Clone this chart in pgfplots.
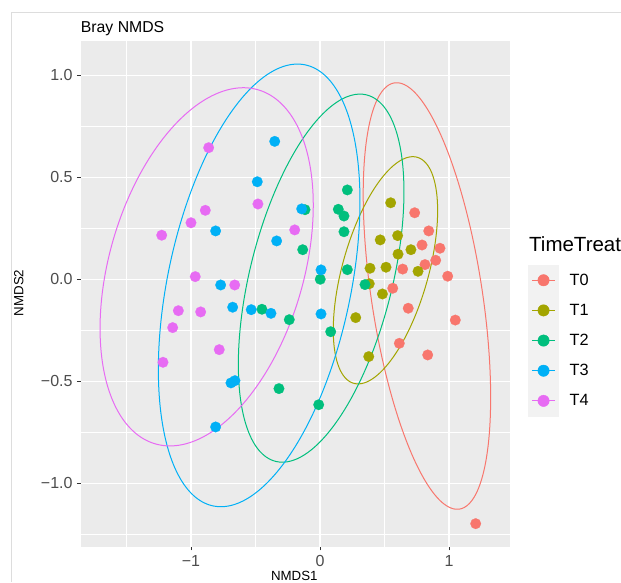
\documentclass[border=0pt]{standalone}
\usepackage{fontspec}
\setmainfont{Liberation Sans}
\usepackage{pgfplots}
\pgfplotsset{compat=1.18}
\definecolor{c0}{HTML}{F8766D}
\definecolor{c1}{HTML}{A3A500}
\definecolor{c2}{HTML}{00BF7D}
\definecolor{c3}{HTML}{00B0F6}
\definecolor{c4}{HTML}{E76BF3}
\definecolor{panel}{HTML}{EBEBEB}
\definecolor{ticktext}{HTML}{4D4D4D}
\definecolor{tickmark}{HTML}{333333}
\definecolor{keybg}{HTML}{F2F2F2}
\definecolor{frame}{HTML}{DDDDDD}
\begin{document}
\begin{tikzpicture}[x=1pt,y=1pt]
\path[use as bounding box, fill=white] (0,0) rectangle (621,-582);
\draw[frame, line width=1pt] (11.5,-582) -- (11.5,-12) -- (621,-12);
\node[anchor=base west, inner sep=0pt, font=\fontsize{15.8}{18}\selectfont] at (80.7,-32.3) {Bray NMDS};
\node[anchor=base west, inner sep=0pt, font=\fontsize{20.5}{24}\selectfont] at (529,-251.7) {TimeTreat};
\begin{axis}[
  at={(80.7pt,-546.7pt)}, anchor=south west,
  scale only axis, width=429.3pt, height=505.7pt,
  xmin=-1.855, xmax=1.473, ymin=-1.310, ymax=1.169,
  axis background/.style={fill=panel},
  axis line style={draw=none},
  xtick={-1,0,1}, xticklabels={−1,0,1},
  ytick={-1,-0.5,0,0.5,1}, yticklabels={−1.0,−0.5,0.0,0.5,1.0},
  minor xtick={-1.5,-0.5,0.5,1.5},
  minor ytick={-1.25,-0.75,-0.25,0.25,0.75},
  xtick pos=bottom, ytick pos=left,
  grid=both,
  major grid style={white, line width=1.1pt},
  minor grid style={white, line width=0.55pt},
  tick align=outside, major tick length=3.7pt, minor tick length=0pt,
  tick style={color=tickmark, line width=0.9pt},
  minor tick style={draw=none},
  ticklabel style={font=\fontsize{16}{18}\selectfont, text=ticktext},
  xticklabel style={anchor=north, inner sep=0pt, yshift=-4.5pt},
  yticklabel style={anchor=east, inner sep=0pt, xshift=-4.3pt},
  xlabel={NMDS1}, ylabel={NMDS2},
  every axis x label/.style={at={(axis description cs:0.4976,-0.0662)}, anchor=base, inner sep=0pt, font=\fontsize{13.3}{15}\selectfont},
  every axis y label/.style={at={(axis description cs:-0.1444,0.5017)}, anchor=center, rotate=90, inner sep=0pt, font=\fontsize{13.3}{15}\selectfont},
  clip=false,
  legend style={at={(axis description cs:1.0419,0.5571)}, anchor=north west, draw=none, fill=none, inner sep=0pt, row sep=0pt,
    font=\fontsize{16.3}{18}\selectfont, nodes={inner sep=0pt},
    /tikz/every odd column/.style={column sep=10.7pt}},
  legend cell align=left,
  legend image code/.code={
    \fill[keybg] (0pt,-14.875pt) rectangle (30.3pt,14.875pt);
    \draw[#1, line width=1pt] (4pt,0pt) -- (26.3pt,0pt);
    \fill[#1] (15.15pt,0pt) circle (5.7pt);
  },
]
% ellipses
\addplot[c0, line width=1pt, domain=0:360, samples=121, smooth, variable=\t, forget plot] ({0.829+0.494*cos(t)}, {-0.081-0.497*cos(t)+0.920*sin(t)});
\addplot[c1, line width=1pt, domain=0:360, samples=121, smooth, variable=\t, forget plot] ({0.5075+0.4045*cos(t)}, {0.045+0.292*cos(t)+0.4743*sin(t)});
\addplot[c2, line width=1pt, domain=0:360, samples=121, smooth, variable=\t, forget plot] ({0.009+0.642*cos(t)}, {0.0065+0.423*cos(t)+0.797*sin(t)});
\addplot[c3, line width=1pt, domain=0:360, samples=121, smooth, variable=\t, forget plot] ({-0.4715+0.7815*cos(t)}, {-0.029+0.412*cos(t)+1.0037*sin(t)});
\addplot[c4, line width=1pt, domain=0:360, samples=121, smooth, variable=\t, forget plot] ({-0.8785+0.8265*cos(t)}, {0.062+0.302*cos(t)+0.8244*sin(t)});
% points
\addplot[only marks, mark=*, mark size=5.3pt, color=c0, mark options={draw=c0, fill=c0, line width=0.2pt}, forget plot] coordinates {
(0.734,0.327) (0.843,0.238) (0.791,0.169) (0.930,0.153) (0.897,0.094) (0.814,0.073) (0.641,0.051)
(0.990,0.016) (0.564,-0.043) (0.684,-0.141) (1.049,-0.199) (0.615,-0.313) (0.835,-0.370) (1.207,-1.197)};
\addplot[only marks, mark=*, mark size=5.3pt, color=c1, mark options={draw=c1, fill=c1, line width=0.2pt}, forget plot] coordinates {
(0.548,0.376) (0.467,0.194) (0.602,0.215) (0.705,0.146) (0.605,0.124) (0.388,0.055) (0.512,0.060)
(0.760,0.040) (0.382,-0.021) (0.484,-0.071) (0.277,-0.187) (0.378,-0.378)};
\addplot[only marks, mark=*, mark size=5.3pt, color=c2, mark options={draw=c2, fill=c2, line width=0.2pt}, forget plot] coordinates {
(0.212,0.439) (0.142,0.344) (0.186,0.311) (0.186,0.234) (-0.134,0.146) (-0.116,0.342) (0.212,0.048)
(0.002,0.001) (0.349,-0.025) (-0.238,-0.197) (0.083,-0.256) (-0.010,-0.614) (-0.318,-0.535) (-0.450,-0.146)};
\addplot[only marks, mark=*, mark size=5.3pt, color=c3, mark options={draw=c3, fill=c3, line width=0.2pt}, forget plot] coordinates {
(-0.351,0.677) (-0.486,0.479) (-0.809,0.238) (-0.336,0.189) (-0.142,0.346) (-0.770,-0.027) (-0.677,-0.136)
(-0.533,-0.148) (-0.380,-0.166) (-0.690,-0.507) (-0.659,-0.496) (-0.809,-0.723) (0.008,-0.169) (0.008,0.047)};
\addplot[only marks, mark=*, mark size=5.3pt, color=c4, mark options={draw=c4, fill=c4, line width=0.2pt}, forget plot] coordinates {
(-0.863,0.646) (-0.481,0.370) (-0.889,0.339) (-1.000,0.278) (-1.227,0.217) (-0.967,0.014) (-0.661,-0.027)
(-0.196,0.243) (-1.098,-0.153) (-0.925,-0.159) (-1.142,-0.236) (-0.781,-0.344) (-1.217,-0.406)};
% legend
\addlegendimage{draw=c0, fill=c0}\addlegendentry{T0}
\addlegendimage{draw=c1, fill=c1}\addlegendentry{T1}
\addlegendimage{draw=c2, fill=c2}\addlegendentry{T2}
\addlegendimage{draw=c3, fill=c3}\addlegendentry{T3}
\addlegendimage{draw=c4, fill=c4}\addlegendentry{T4}
\end{axis}
\end{tikzpicture}
\end{document}
